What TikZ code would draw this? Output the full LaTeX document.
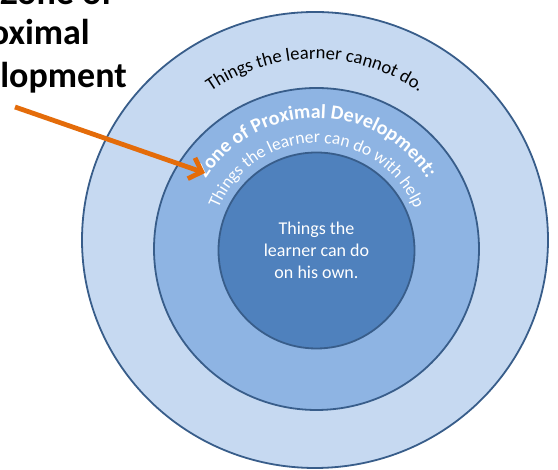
\documentclass[tikz,border=0pt]{standalone}
\usepackage{fontspec}
\setmainfont{Carlito}
\usetikzlibrary{decorations.text,arrows.meta,calc}
\definecolor{ringout}{HTML}{C6D9F1}
\definecolor{ringmid}{HTML}{8EB4E3}
\definecolor{ringin}{HTML}{4F81BD}
\definecolor{ringedge}{HTML}{385D8A}
\definecolor{arroworange}{HTML}{E46C0A}
\begin{document}
\begin{tikzpicture}[x=1pt,y=1pt,
  ringline/.style={draw=ringedge,line width=1.8pt},
  titletext/.style={font=\bfseries\fontsize{36}{40}\selectfont,text=black,inner sep=0pt,anchor=base east},
  pointer/.style={draw=arroworange,line width=4.8pt,-{Straight Barb[length=11pt,width=22pt,line width=4.8pt]}}]
\useasboundingbox (0,0) rectangle (558,470);
\clip (0,0) rectangle (558,470);
\fill[white] (0,0) rectangle (558,470);
% centres
\coordinate (c1) at (315,230);
\coordinate (c2) at (316.5,221);
\coordinate (c3) at (316.5,219.5);
% rings
\draw[ringline,fill=ringout] (c1) ellipse[x radius=233,y radius=228];
\draw[ringline,fill=ringmid] (c2) ellipse[x radius=162.5,y radius=161];
\draw[ringline,fill=ringin] (c3) circle[radius=98];
% curved texts
\path[decorate,decoration={text along path,text align=center,
  text={|\fontsize{18.6}{22}\selectfont|Things the learner cannot do.}}]
  ($(c1)+(160:181)$) arc[start angle=160,end angle=20,radius=181];
\path[decorate,decoration={text along path,text align=center,text color=white,
  text={|\bfseries\fontsize{20}{24}\selectfont|Zone of Proximal Development:}}]
  ($(c2)+(178:131)$) arc[start angle=178,end angle=2,radius=131];
\path[decorate,decoration={text along path,text align=center,text color=white,
  text={|\fontsize{17.5}{21}\selectfont|Things the learner can do with help}}]
  ($(c2)+(179:106)$) arc[start angle=179,end angle=1,radius=106];
% inner text
\node[align=center,text=white,font=\fontsize{18}{22}\selectfont] (own) at (316.5,220) {Things the\\learner can do\\on his own.};
% title
\node[titletext] (t1) at (113,465) {Zone of};
\node[titletext] (t2) at (90,425) {Proximal};
\node[titletext] (t3) at (127,382) {Development};
% arrow
\coordinate (astart) at (15,363);
\coordinate (atip) at (205,297);
\draw[pointer] (astart) -- (atip);
\end{tikzpicture}
\end{document}
